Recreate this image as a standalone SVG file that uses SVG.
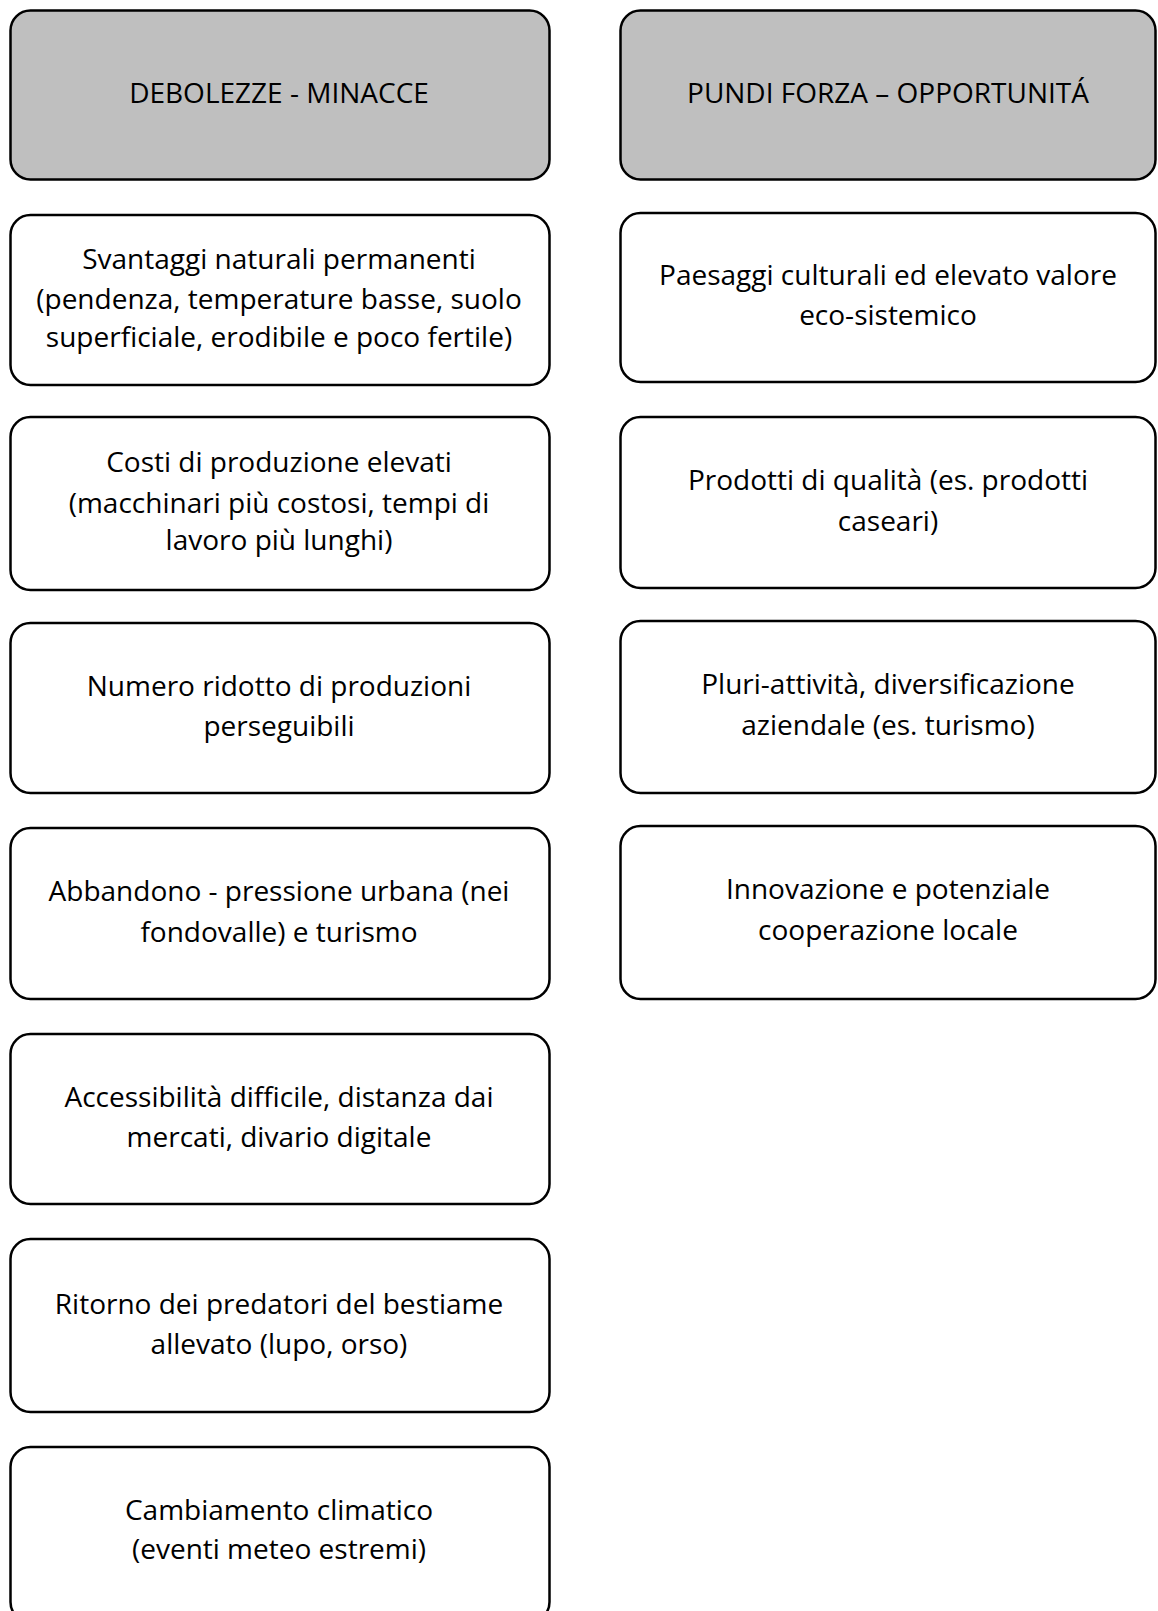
<svg xmlns="http://www.w3.org/2000/svg" width="1158" height="1611" viewBox="0 0 1158 1611">
<style>
.box{fill:#ffffff;stroke:#000000;stroke-width:2.5}
.hdr{fill:#bfbfbf;stroke:#000000;stroke-width:2.5}
text{font-family:"Open Sans","Liberation Sans",sans-serif;font-size:28px;fill:#000000;text-anchor:middle}
</style>
<rect width="1158" height="1611" fill="#ffffff"/>
<g id="h-left"><rect class="hdr" x="10.5" y="10.5" width="539" height="169" rx="20"/><text x="279" y="103">DEBOLEZZE - MINACCE</text></g>
<g id="h-right"><rect class="hdr" x="620.5" y="10.5" width="535" height="169" rx="20"/><text x="888" y="103">PUNDI FORZA – OPPORTUNITÁ</text></g>
<g id="l1"><rect class="box" x="10.5" y="215" width="539" height="170" rx="20"/><text x="279" y="269">Svantaggi naturali permanenti</text><text x="279" y="309">(pendenza, temperature basse, suolo</text><text x="279" y="347">superficiale, erodibile e poco fertile)</text></g>
<g id="l2"><rect class="box" x="10.5" y="417" width="539" height="173" rx="20"/><text x="279" y="472">Costi di produzione elevati</text><text x="279" y="513">(macchinari più costosi, tempi di</text><text x="279" y="550">lavoro più lunghi)</text></g>
<g id="l3"><rect class="box" x="10.5" y="623" width="539" height="170" rx="20"/><text x="279" y="696">Numero ridotto di produzioni</text><text x="279" y="736">perseguibili</text></g>
<g id="l4"><rect class="box" x="10.5" y="828" width="539" height="171" rx="20"/><text x="279" y="901">Abbandono  - pressione urbana (nei</text><text x="279" y="942">fondovalle) e turismo</text></g>
<g id="l5"><rect class="box" x="10.5" y="1034" width="539" height="170" rx="20"/><text x="279" y="1107">Accessibilità difficile, distanza dai</text><text x="279" y="1147">mercati, divario digitale</text></g>
<g id="l6"><rect class="box" x="10.5" y="1239" width="539" height="173" rx="20"/><text x="279" y="1314">Ritorno dei predatori del bestiame</text><text x="279" y="1354">allevato (lupo, orso)</text></g>
<g id="l7"><rect class="box" x="10.5" y="1447" width="539" height="175" rx="20"/><text x="279" y="1520">Cambiamento climatico</text><text x="279" y="1559">(eventi meteo estremi)</text></g>
<g id="r1"><rect class="box" x="620.5" y="213" width="535" height="169" rx="20"/><text x="888" y="285">Paesaggi culturali ed elevato valore</text><text x="888" y="325">eco-sistemico</text></g>
<g id="r2"><rect class="box" x="620.5" y="417" width="535" height="171" rx="20"/><text x="888" y="490">Prodotti  di qualità (es. prodotti</text><text x="888" y="531">caseari)</text></g>
<g id="r3"><rect class="box" x="620.5" y="621" width="535" height="172" rx="20"/><text x="888" y="694">Pluri-attività, diversificazione</text><text x="888" y="735">aziendale (es. turismo)</text></g>
<g id="r4"><rect class="box" x="620.5" y="826" width="535" height="173" rx="20"/><text x="888" y="899">Innovazione  e potenziale</text><text x="888" y="940">cooperazione  locale</text></g>
<g id="connectors"></g>
</svg>
